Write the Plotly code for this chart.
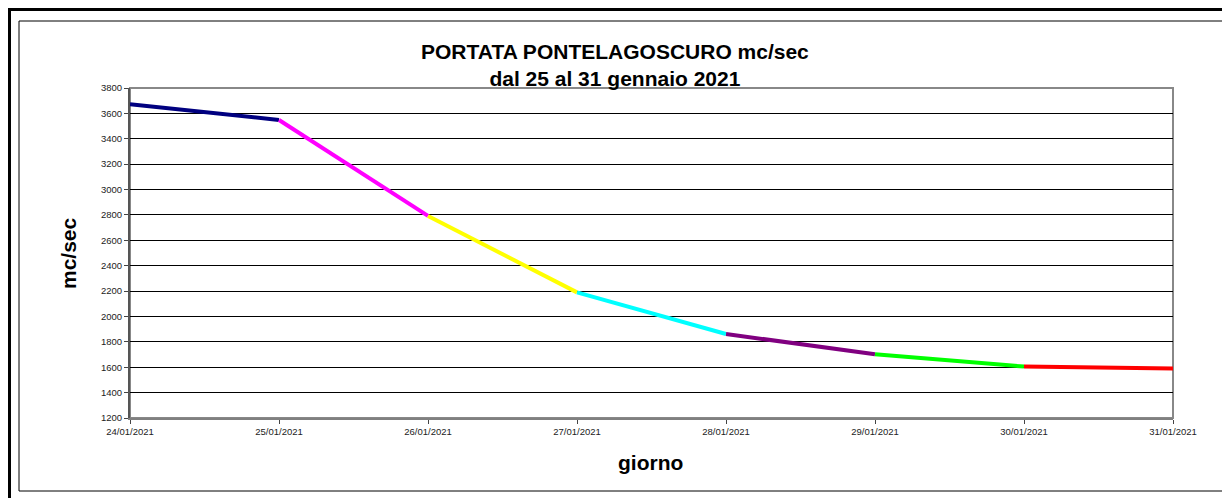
import plotly.graph_objects as go

dates = ["24/01/2021", "25/01/2021", "26/01/2021", "27/01/2021",
         "28/01/2021", "29/01/2021", "30/01/2021", "31/01/2021"]
portata = [3672, 3548, 2792, 2190, 1862, 1702, 1605, 1590]
seg_colors = ["#000080", "#FF00FF", "#FFFF00", "#00FFFF",
              "#800080", "#00FF00", "#FF0000"]
y_ticks = list(range(1200, 3801, 200))

# page body has an 8px margin, so figure coords = screen coords - 8
OFF = 8
W, H = 1222, 490
L, R, T, B = 130 - OFF, 1173 - OFF, 88 - OFF, 418 - OFF

fig = go.Figure()
for i, c in enumerate(seg_colors):
    fig.add_trace(go.Scatter(
        x=[i, i + 1], y=[portata[i], portata[i + 1]],
        mode="lines", line=dict(color=c, width=4),
        showlegend=False, hoverinfo="skip"))

def px_x(p):
    return (p - OFF - L) / (R - L)

def px_y(p):
    return (B - (p - OFF)) / (B - T)

shapes = [
    # outer thick border (right/bottom edges run off screen)
    dict(type="rect", xref="paper", yref="paper", x0=px_x(9.5), x1=px_x(1260),
         y0=px_y(530), y1=px_y(9.5), line=dict(color="black", width=3), layer="below"),
    # inner thin border
    dict(type="rect", xref="paper", yref="paper", x0=px_x(19), x1=px_x(1228),
         y0=px_y(491), y1=px_y(21), line=dict(color="black", width=1), layer="below"),
    # plot area border (grey)
    dict(type="rect", xref="paper", yref="paper", x0=0, x1=1, y0=0, y1=1,
         line=dict(color="#888888", width=2), layer="below"),
]

fig.update_layout(
    width=W, height=H,
    margin=dict(l=L, r=W - R, t=T, b=H - B),
    paper_bgcolor="white", plot_bgcolor="white",
    font=dict(family="Liberation Sans, Arial, sans-serif", color="black"),
    shapes=shapes,
    xaxis=dict(
        tickmode="array", tickvals=list(range(len(dates))), ticktext=dates,
        range=[0, len(dates) - 1], showgrid=False, zeroline=False,
        showline=True, linecolor="#808080", linewidth=2,
        ticks="outside", ticklen=4, tickcolor="#444444",
        tickfont=dict(size=9.5, color="#222222"),
    ),
    yaxis=dict(
        tickmode="array", tickvals=y_ticks, range=[1200, 3800],
        showgrid=True, gridcolor="black", gridwidth=1, zeroline=False,
        showline=True, linecolor="#555555", linewidth=2,
        ticks="outside", ticklen=4, tickcolor="#444444",
        tickfont=dict(size=9.5, color="#222222"),
    ),
    annotations=[
        dict(text="<b>PORTATA PONTELAGOSCURO mc/sec<br>dal 25 al 31 gennaio 2021</b>",
             xref="paper", yref="paper", x=px_x(615), y=px_y(38),
             xanchor="center", yanchor="top", showarrow=False,
             font=dict(size=21, color="black")),
        dict(text="<b>giorno</b>", xref="paper", yref="paper",
             x=px_x(650), y=px_y(463), xanchor="center", yanchor="middle",
             showarrow=False, font=dict(size=21, color="black")),
        dict(text="<b>mc/sec</b>", xref="paper", yref="paper",
             x=px_x(68), y=px_y(253), xanchor="center", yanchor="middle",
             textangle=-90, showarrow=False, font=dict(size=21, color="black")),
    ],
)

fig.write_html("out.html")
